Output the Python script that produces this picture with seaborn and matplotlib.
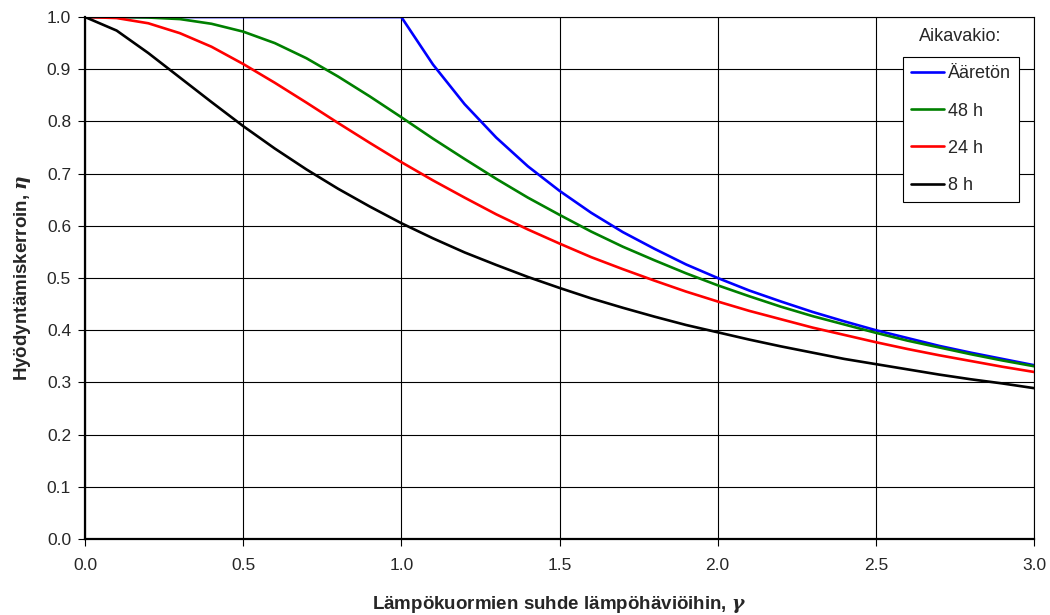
import numpy as np
import pandas as pd
import seaborn as sns
import matplotlib.pyplot as plt

# ratio of heat gains to heat losses (gamma), step 0.1
gamma = [round(0.1 * i, 1) for i in range(31)]

# utilization factor eta, one list per time constant
eta_inf = [1.000, 1.000, 1.000, 1.000, 1.000, 1.000, 1.000, 1.000, 1.000, 1.000, 1.000,
           0.909, 0.833, 0.769, 0.714, 0.667, 0.625, 0.588, 0.556, 0.526, 0.500,
           0.476, 0.455, 0.435, 0.417, 0.400, 0.385, 0.370, 0.357, 0.345, 0.333]
eta_48 = [1.000, 1.000, 0.999, 0.996, 0.987, 0.972, 0.950, 0.921, 0.886, 0.848, 0.808,
          0.767, 0.728, 0.690, 0.654, 0.621, 0.589, 0.560, 0.534, 0.509, 0.486,
          0.465, 0.445, 0.427, 0.411, 0.395, 0.380, 0.367, 0.354, 0.342, 0.331]
eta_24 = [1.000, 0.998, 0.988, 0.969, 0.943, 0.910, 0.874, 0.836, 0.797, 0.759, 0.722,
          0.687, 0.654, 0.622, 0.593, 0.566, 0.540, 0.517, 0.495, 0.474, 0.455,
          0.437, 0.421, 0.405, 0.391, 0.377, 0.364, 0.352, 0.341, 0.330, 0.320]
eta_8 = [1.000, 0.974, 0.931, 0.884, 0.837, 0.791, 0.748, 0.708, 0.671, 0.637, 0.605,
         0.576, 0.549, 0.525, 0.502, 0.481, 0.461, 0.443, 0.426, 0.410, 0.396,
         0.382, 0.369, 0.357, 0.345, 0.335, 0.325, 0.315, 0.306, 0.298, 0.289]

series_names = ["Ääretön", "48 h", "24 h", "8 h"]
series_colors = ["#0000ff", "#008000", "#ff0000", "#000000"]

frames = []
for name, vals in zip(series_names, [eta_inf, eta_48, eta_24, eta_8]):
    frames.append(pd.DataFrame({"gamma": gamma, "eta": vals, "tau": name}))
df = pd.concat(frames, ignore_index=True)

sns.set_style("ticks")
plt.rcParams['font.family'] = ['Liberation Sans', 'DejaVu Sans']
# bold italic greek letters in the axis titles
plt.rcParams['mathtext.fontset'] = 'custom'
plt.rcParams['mathtext.it'] = 'DejaVu Serif:italic:bold'
plt.rcParams['mathtext.rm'] = 'DejaVu Serif:bold'

fig = plt.figure(figsize=(10.5, 6.15), dpi=100)
ax = fig.add_axes([85 / 1050, 1 - 539 / 615, 949 / 1050, 522 / 615])

sns.lineplot(data=df, x="gamma", y="eta", hue="tau", hue_order=series_names,
             palette=dict(zip(series_names, series_colors)),
             linewidth=1.9, ax=ax, legend=True)

ax.set_xlim(0, 3.0)
ax.set_ylim(0, 1.0)
ax.set_xticks(np.arange(0, 3.01, 0.5))
ax.set_yticks(np.arange(0, 1.01, 0.1))
ax.xaxis.set_major_formatter(plt.FormatStrFormatter("%.1f"))
ax.yaxis.set_major_formatter(plt.FormatStrFormatter("%.1f"))
ax.grid(True, color="black", linewidth=0.8)
ax.set_axisbelow(True)
ax.tick_params(axis="both", labelsize=12.5, length=5, width=0.8, color="black")
ax.tick_params(axis="x", pad=9)
ax.tick_params(axis="y", pad=5)

for side in ["top", "right"]:
    ax.spines[side].set_linewidth(0.8)
    ax.spines[side].set_color("black")
for side in ["left", "bottom"]:
    ax.spines[side].set_linewidth(1.6)
    ax.spines[side].set_color("black")

ax.set_xlabel("Lämpökuormien suhde lämpöhäviöihin, $\\gamma$", fontsize=13.5,
              fontweight="bold", labelpad=15)
ax.set_ylabel("Hyödyntämiskerroin, $\\eta$", fontsize=13.5, fontweight="bold", labelpad=10)

ax.text(0.922, 0.962, "Aikavakio:", transform=ax.transAxes, ha="center", va="center",
        fontsize=13)
leg = ax.legend(loc="upper right", bbox_to_anchor=(0.984, 0.923), borderaxespad=0,
                fontsize=13, frameon=True, fancybox=False, framealpha=1,
                edgecolor="black", labelspacing=1.12, handlelength=1.85,
                handletextpad=0.2, borderpad=0.45)
leg.get_frame().set_linewidth(0.8)

plt.savefig("out.png", dpi=100)
plt.close()
